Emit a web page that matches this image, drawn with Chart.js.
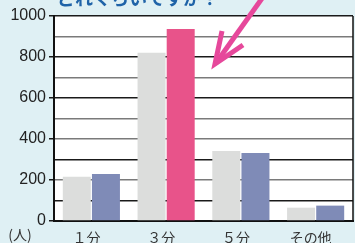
<!DOCTYPE html>
<html>
<head>
<meta charset="utf-8">
<script src="https://cdn.jsdelivr.net/npm/chart.js@4"></script>
<style>
  html, body { margin: 0; padding: 0; background: #dff0f4; }
  canvas { display: block; }
</style>
</head>
<body>
<canvas id="chart" width="355" height="243"></canvas>
<script>
// カテゴリと値
const categories = ['１分', '３分', '５分', 'その他'];
const seriesA = [216, 821, 341, 65];
const seriesB = [229, 937, 332, 75];
const yTickLabels = [0, 200, 400, 600, 800, 1000];

const greyBar = '#dcdddc';
const blueBar = '#7f8bb7';
const pinkBar = '#e8538a';
const darkLines = [100, 300, 600, 800, 1000];

// 背景・枠・注記
const decor = {
  id: 'decor',
  beforeDraw(chart) {
    const { ctx, chartArea: a } = chart;
    ctx.save();
    ctx.fillStyle = '#ffffff';
    ctx.fillRect(a.left, a.top, a.right - a.left, a.bottom - a.top);
    ctx.restore();
  },
  afterDraw(chart) {
    const { ctx, chartArea: a } = chart;
    ctx.save();
    ctx.strokeStyle = '#111';
    ctx.lineWidth = 1.5;
    ctx.beginPath();
    ctx.moveTo(a.right, a.top);
    ctx.lineTo(a.right, a.bottom);
    ctx.stroke();

    // 見出し（上が切れている）
    ctx.fillStyle = '#1f63a8';
    ctx.font = 'bold 18px "Noto Sans CJK JP"';
    ctx.textBaseline = 'alphabetic';
    ctx.fillText('どれくらいですか？', 57, 5);

    // 単位
    ctx.fillStyle = '#333';
    ctx.font = '14px "Noto Sans CJK JP"';
    ctx.textAlign = 'center';
    ctx.textBaseline = 'top';
    ctx.fillText('(人)', 20, 228);

    // 矢印
    ctx.strokeStyle = '#e6489b';
    ctx.lineWidth = 5;
    ctx.lineCap = 'butt';
    ctx.lineJoin = 'miter';
    ctx.beginPath();
    ctx.moveTo(263, -3);
    ctx.lineTo(216, 63);
    ctx.stroke();
    ctx.beginPath();
    ctx.moveTo(222, 31);
    ctx.lineTo(215, 64);
    ctx.lineTo(243, 45);
    ctx.stroke();
    ctx.restore();
  }
};

const chart = new Chart(document.getElementById('chart'), {
  type: 'bar',
  data: {
    labels: categories,
    datasets: [{
      data: seriesA,
      backgroundColor: greyBar,
      borderWidth: 0
    }, {
      data: seriesB,
      backgroundColor: [blueBar, pinkBar, blueBar, blueBar],
      borderWidth: 0
    }]
  },
  options: {
    responsive: false,
    animation: false,
    categoryPercentage: 0.78,
    barPercentage: 0.96,
    layout: { padding: { top: 16, right: 2, left: 0, bottom: 0 } },
    plugins: {
      legend: { display: false },
      tooltip: { enabled: false }
    },
    scales: {
      x: {
        grid: { display: false },
        border: { color: '#111', width: 2 },
        ticks: {
          color: '#333',
          font: { family: '"Noto Sans CJK JP"', size: 14 },
          padding: 0,
          labelOffset: -5,
          maxRotation: 0
        },
        afterFit(scale) { scale.height = 22; }
      },
      y: {
        min: 0,
        max: 1000,
        border: { color: '#111', width: 2 },
        grid: {
          color: c => darkLines.includes(c.tick.value) ? '#1a1a1a' : '#7a7a7a',
          lineWidth: 1.5,
          tickLength: 5,
          tickColor: c => yTickLabels.includes(c.tick.value) ? '#1a1a1a' : 'rgba(0,0,0,0)'
        },
        ticks: {
          stepSize: 100,
          autoSkip: false,
          color: '#222',
          padding: 3,
          font: { family: '"Liberation Sans"', size: 16 },
          callback: v => yTickLabels.includes(v) ? v : ''
        },
        afterFit(scale) { scale.width = 54; }
      }
    }
  },
  plugins: [decor]
});
</script>
</body>
</html>
